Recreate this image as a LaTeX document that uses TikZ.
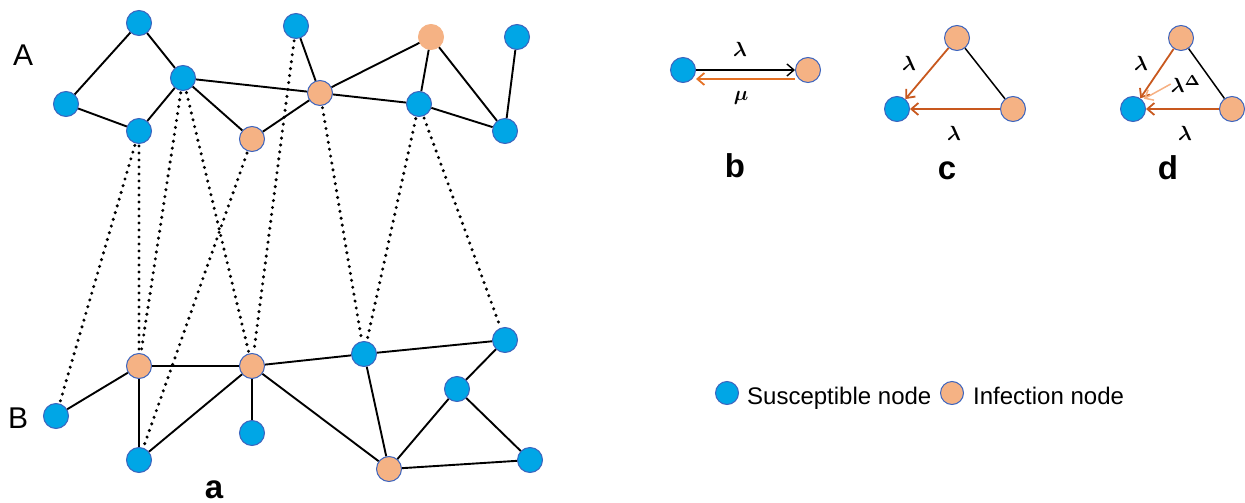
\documentclass[tikz,border=0pt]{standalone}
\usepackage{fontspec}
\setmainfont{Liberation Sans}
\usetikzlibrary{arrows.meta}
\definecolor{sblue}{RGB}{0,166,230}
\definecolor{iorange}{RGB}{245,178,132}
\definecolor{nborder}{RGB}{60,100,190}
\definecolor{arrorange}{RGB}{228,112,36}
\definecolor{arrbrown}{RGB}{200,88,30}
\definecolor{lightarr}{RGB}{246,176,130}
\newcommand{\mlbl}[1]{\scalebox{2.05}{\boldmath$#1$}}
\begin{document}
\begin{tikzpicture}[x=1pt,y=-1pt,
  sus/.style={circle,fill=sblue,draw=nborder,line width=1pt,minimum size=25pt,inner sep=0pt},
  inf/.style={circle,fill=iorange,draw=nborder,line width=1pt,minimum size=25pt,inner sep=0pt},
  edge/.style={line width=1.9pt,black},
  link/.style={line width=3.4pt,line cap=round,dash pattern=on 0pt off 7pt,shorten <=2pt,shorten >=2pt},
  lay/.style={font=\fontsize{30}{32}\selectfont,anchor=base west,inner sep=0pt},
  panel/.style={font=\bfseries\fontsize{33}{36}\selectfont,anchor=base,inner sep=0pt},
  lbl/.style={inner sep=0pt},
  legend/.style={font=\fontsize{24}{26}\selectfont,anchor=base west,inner sep=0pt},
  barb/.style={-{Straight Barb[length=7pt,width=12pt]}},
]
\useasboundingbox (0,0) rectangle (1245,503);

% ---------- layer A ----------
\node[sus] (a1) at (139,23) {};
\node[sus] (a2) at (66,104) {};
\node[sus] (a3) at (139,131) {};
\node[sus] (a4) at (183,78) {};
\node[inf] (a5) at (252,139) {};
\node[sus] (a6) at (296,26) {};
\node[inf] (a7) at (320,93) {};
\node[inf,draw=iorange] (a8) at (431,37) {};
\node[sus] (a9) at (419,104) {};
\node[sus] (a10) at (517,37) {};
\node[sus] (a11) at (505,131) {};

% ---------- layer B ----------
\node[sus] (b1) at (56,416) {};
\node[inf] (b2) at (139,366) {};
\node[sus] (b3) at (139,460) {};
\node[inf] (b4) at (252,366) {};
\node[sus] (b5) at (252,433) {};
\node[sus] (b6) at (364,354) {};
\node[sus] (b7) at (505,340) {};
\node[sus] (b8) at (457,389) {};
\node[inf] (b9) at (389,469) {};
\node[sus] (b10) at (530,460) {};

% layer A edges
\draw[edge] (a2) -- (a1);
\draw[edge] (a1) -- (a4);
\draw[edge] (a2) -- (a3);
\draw[edge] (a3) -- (a4);
\draw[edge] (a4) -- (a7);
\draw[edge] (a4) -- (a5);
\draw[edge] (a5) -- (a7);
\draw[edge] (a6) -- (a7);
\draw[edge] (a7) -- (a8);
\draw[edge] (a7) -- (a9);
\draw[edge] (a8) -- (a9);
\draw[edge] (a8) -- (a11);
\draw[edge] (a9) -- (a11);
\draw[edge] (a10) -- (a11);

% layer B edges
\draw[edge] (b1) -- (b2);
\draw[edge] (b2) -- (b4);
\draw[edge] (b2) -- (b3);
\draw[edge] (b3) -- (b4);
\draw[edge] (b4) -- (b5);
\draw[edge] (b4) -- (b6);
\draw[edge] (b4) -- (b9);
\draw[edge] (b6) -- (b7);
\draw[edge] (b6) -- (b9);
\draw[edge] (b7) -- (b8);
\draw[edge] (b8) -- (b9);
\draw[edge] (b8) -- (b10);
\draw[edge] (b9) -- (b10);

% inter-layer links
\draw[link] (a3) -- (b1);
\draw[link] (a3) -- (b2);
\draw[link] (a4) -- (b2);
\draw[link] (a4) -- (b4);
\draw[link] (a5) -- (b3);
\draw[link] (a6) -- (b4);
\draw[link] (a7) -- (b6);
\draw[link] (a9) -- (b6);
\draw[link] (a9) -- (b7);

\node[lay] (labA) at (13,66) {A};
\node[lay] (labB) at (8,428) {B};
\node[panel] (pa) at (214,498) {a};

% ---------- panel b ----------
\node[sus] (bs) at (683,70) {};
\node[inf] (bi) at (808,70) {};
\draw[barb,line width=1.4pt,black] (bs.east) -- (bi.west);
\draw[barb,line width=1.8pt,arrorange] ([yshift=-9pt]bi.west) -- ([yshift=-9pt]bs.east);
\node[lbl] (blam) at (740,49) {\mlbl{\lambda}};
\node[lbl] (bmu) at (741,98) {\mlbl{\mu}};
\node[panel] (pb) at (735,177) {b};

% ---------- panel c ----------
\node[inf] (ct) at (957,38) {};
\node[sus] (cl) at (897,109) {};
\node[inf] (cr) at (1013,109) {};
\draw[line width=1.5pt,black] (ct) -- (cr);
\draw[barb,line width=1.8pt,arrbrown] (ct) -- (cl);
\draw[barb,line width=1.8pt,arrbrown] (cr) -- (cl);
\node[lbl] (clam1) at (909,63) {\mlbl{\lambda}};
\node[lbl] (clam2) at (954,133) {\mlbl{\lambda}};
\node[panel] (pc) at (947,179) {c};

% ---------- panel d ----------
\node[inf] (dt) at (1181,38) {};
\node[sus] (dl) at (1133,109) {};
\node[inf] (dr) at (1232,109) {};
\draw[line width=1.5pt,black] (dt) -- (dr);
\draw[barb,line width=1.8pt,arrbrown] (dt) -- (dl);
\draw[barb,line width=1.8pt,arrbrown] (dr) -- (dl);
\node[lbl] (dlam1) at (1141,63) {\mlbl{\lambda}};
\node[lbl] (dlamd) at (1186,84) {\mlbl{\lambda^{\Delta}}};
\node[lbl] (dlam2) at (1185,133) {\mlbl{\lambda}};
\draw[barb,line width=1.5pt,lightarr,shorten >=2pt] (dlamd.west) -- (dl.north east);
\node[panel] (pd) at (1168,179) {d};

% ---------- legend ----------
\node[sus,minimum size=23pt] (ls) at (727,393) {};
\node[legend] (lst) at (747,404) {Susceptible node};
\node[inf,minimum size=23pt] (li) at (952,393) {};
\node[legend] (lit) at (973,404) {Infection node};
\end{tikzpicture}
\end{document}
